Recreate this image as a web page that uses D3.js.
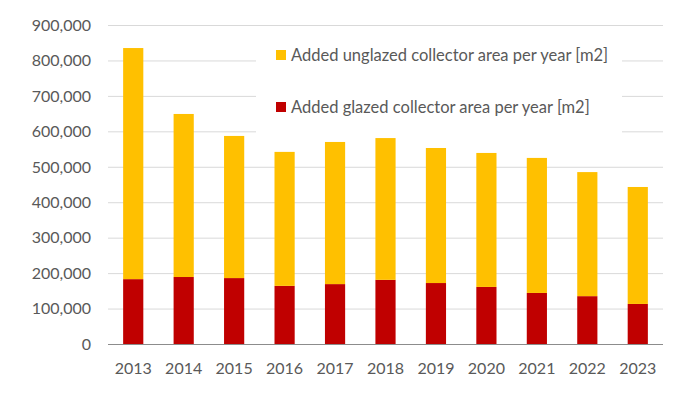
<!DOCTYPE html>
<html>
<head>
<meta charset="utf-8">
<script src="https://cdn.jsdelivr.net/npm/d3@7"></script>
<style>
  body { margin: 0; background: #fff; }
  text { font-family: Lato, "Open Sans", sans-serif; fill: #595959; }
</style>
</head>
<body>
<svg id="chart" width="689" height="393"></svg>
<script>
"use strict";

// chart data
const years = ["2013", "2014", "2015", "2016", "2017", "2018", "2019", "2020", "2021", "2022", "2023"]
const glazed = [183000, 189000, 186000, 164000, 169000, 181000, 172000, 161000, 144000, 135000, 113000]
const totals = [835000, 649000, 587000, 542000, 570000, 581000, 553000, 539000, 525000, 485000, 443000]
const unglazed = totals.map(function (t, i) { return t - glazed[i] })
const yTicks = [0, 100000, 200000, 300000, 400000, 500000, 600000, 700000, 800000, 900000]
const legendLabels = ["Added unglazed collector area per year [m2]", "Added glazed collector area per year [m2]"]
const colors = { glazed: "#C00000", unglazed: "#FFC000" }

const svg = d3.select("#chart")
const plotLeft = 108, plotRight = 663, plotTop = 25, plotBottom = 344

// Set the x axis
let x = d3.scaleBand()
    .domain(years)
    .range([plotLeft, plotRight])
    .paddingInner(0.6)
    .paddingOuter(0.3)

// Set the y axis
let y = d3.scaleLinear()
    .domain([0, 900000])
    .range([plotBottom, plotTop])

// gridlines
svg.append("g")
    .selectAll("line")
    .data(yTicks.filter(function (d) { return d > 0 }))
    .enter().append("line")
    .attr("x1", plotLeft)
    .attr("x2", plotRight)
    .attr("y1", function (d) { return y(d) + 0.5 })
    .attr("y2", function (d) { return y(d) + 0.5 })
    .attr("stroke", "#d9d9d9")
    .attr("stroke-width", 1)

// y tick labels
svg.append("g")
    .selectAll("text")
    .data(yTicks)
    .enter().append("text")
    .attr("x", 91)
    .attr("y", function (d) { return y(d) })
    .attr("dy", "0.36em")
    .attr("text-anchor", "end")
    .style("font-size", "16px")
    .text(function (d) { return d3.format(",")(d) })

// stacked bars
const stackData = years.map(function (yr, i) {
    return { year: yr, glazed: glazed[i], unglazed: unglazed[i] }
})
const series = d3.stack().keys(["glazed", "unglazed"])(stackData)

svg.append("g")
    .selectAll("g")
    .data(series)
    .enter().append("g")
    .attr("fill", function (s) { return colors[s.key] })
    .selectAll("rect")
    .data(function (s) { return s })
    .enter().append("rect")
    .attr("x", function (d) { return x(d.data.year) })
    .attr("width", x.bandwidth())
    .attr("y", function (d) { return y(d[1]) })
    .attr("height", function (d) { return y(d[0]) - y(d[1]) })

// baseline
svg.append("line")
    .attr("x1", plotLeft)
    .attr("x2", plotRight)
    .attr("y1", y(0) + 0.5)
    .attr("y2", y(0) + 0.5)
    .attr("stroke", "#8c8c8c")
    .attr("stroke-width", 1)

// x tick labels
svg.append("g")
    .selectAll("text")
    .data(years)
    .enter().append("text")
    .attr("x", function (d) { return x(d) + x.bandwidth() / 2 })
    .attr("y", 374)
    .attr("text-anchor", "middle")
    .style("font-size", "16px")
    .text(function (d) { return d })

// legend, white box over the gridlines
const legend = svg.append("g")
legend.append("rect")
    .attr("x", 256)
    .attr("y", 30)
    .attr("width", 366)
    .attr("height", 108)
    .attr("fill", "#fff")

const legendItems = legend.selectAll("g.item")
    .data([
        { label: legendLabels[0], color: colors.unglazed },
        { label: legendLabels[1], color: colors.glazed }
    ])
    .enter().append("g")
    .attr("class", "item")
    .attr("transform", function (d, i) { return "translate(276," + (50 + i * 52) + ")" })

legendItems.append("rect")
    .attr("width", 10)
    .attr("height", 10)
    .attr("fill", function (d) { return d.color })

legendItems.append("text")
    .attr("x", 15)
    .attr("y", 5)
    .attr("dy", "0.36em")
    .style("font-size", "16.5px")
    .text(function (d) { return d.label })
</script>
</body>
</html>
